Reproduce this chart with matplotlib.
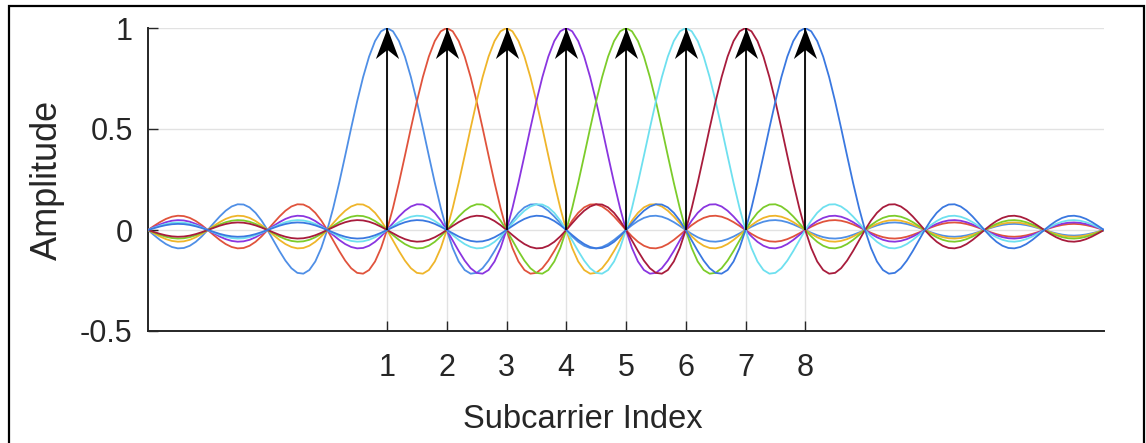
import matplotlib
matplotlib.use("Agg")
import matplotlib.pyplot as plt
import numpy as np
from matplotlib.path import Path
from matplotlib.patches import Rectangle

# ---- data ----
subcarriers = [1, 2, 3, 4, 5, 6, 7, 8]
amplitudes = [1, 1, 1, 1, 1, 1, 1, 1]
x_start, x_stop, x_step = -3.0, 13.0, 0.1
# one-sided pulse shape, at offsets 0, 0.1, 0.2, ... 12.0
pulse_one_sided = [
    1.0000, 0.9836, 0.9355, 0.8584, 0.7568, 0.6366, 0.5046, 0.3679, 0.2339, 0.1093,
    0.0000, -0.0894, -0.1559, -0.1981, -0.2162, -0.2122, -0.1892, -0.1515, -0.1039, -0.0518,
    0.0000, 0.0468, 0.0850, 0.1120, 0.1261, 0.1273, 0.1164, 0.0954, 0.0668, 0.0339,
    0.0000, -0.0317, -0.0585, -0.0780, -0.0890, -0.0909, -0.0841, -0.0696, -0.0492, -0.0252,
    0.0000, 0.0240, 0.0445, 0.0599, 0.0688, 0.0707, 0.0658, 0.0548, 0.0390, 0.0201,
    0.0000, -0.0193, -0.0360, -0.0486, -0.0561, -0.0579, -0.0541, -0.0452, -0.0323, -0.0167,
    0.0000, 0.0161, 0.0302, 0.0409, 0.0473, 0.0490, 0.0459, 0.0384, 0.0275, 0.0143,
    0.0000, -0.0139, -0.0260, -0.0353, -0.0409, -0.0424, -0.0398, -0.0334, -0.0240, -0.0125,
    0.0000, 0.0121, 0.0228, 0.0310, 0.0360, 0.0374, 0.0352, 0.0296, 0.0213, 0.0111,
    0.0000, -0.0108, -0.0203, -0.0277, -0.0322, -0.0335, -0.0315, -0.0265, -0.0191, -0.0099,
    0.0000, 0.0097, 0.0183, 0.0250, 0.0291, 0.0303, 0.0286, 0.0241, 0.0173, 0.0090,
    0.0000, -0.0089, -0.0167, -0.0228, -0.0266, -0.0277, -0.0261, -0.0220, -0.0159, -0.0083,
    0.0000,
]
colors = ["#4f8fe6", "#e0533c", "#efb52a", "#8a35e0",
          "#7ccc2a", "#6ee0ef", "#a81c3c", "#3a78e0"]
xtick_labels = ["1", "2", "3", "4", "5", "6", "7", "8"]
yticks = [-0.5, 0, 0.5, 1]
ytick_labels = ["-0.5", "0", "0.5", "1"]

plt.rcParams["font.family"] = ["Liberation Sans", "DejaVu Sans"]

W, H = 1146, 443
fig = plt.figure(figsize=(W / 100, H / 100), dpi=100)
L, R, B, T = 148, 1104, 331, 28
ax = fig.add_axes([L / W, (H - B) / H, (R - L) / W, (B - T) / H])

pulse_full = np.array(pulse_one_sided[::-1] + pulse_one_sided[1:])
step_count = len(pulse_one_sided) - 1
n_pts = int(round((x_stop - x_start) / x_step)) + 1
x = x_start + x_step * np.arange(n_pts)

for k, c in zip(subcarriers, colors):
    idx = np.round((x - k) / x_step).astype(int) + step_count
    ax.plot(x, pulse_full[idx], color=c, lw=1.3, zorder=3)

# stems with notched arrow heads
ax.vlines(subcarriers, 0, amplitudes, color="black", lw=1.3, zorder=4)
head = Path([(0, 0), (-0.38, -1), (0, -0.7), (0.38, -1), (0, 0)],
            [Path.MOVETO, Path.LINETO, Path.LINETO, Path.LINETO, Path.CLOSEPOLY])
ax.plot(subcarriers, amplitudes, linestyle="none", marker=head,
        markersize=44, color="black", markeredgewidth=0, zorder=5)

ax.set_xlim(x_start, x_stop)
ax.set_ylim(-0.5, 1)
ax.set_xticks(subcarriers)
ax.set_xticklabels(xtick_labels)
ax.set_yticks(yticks)
ax.set_yticklabels(ytick_labels)
ax.grid(True, color="#e2e2e2", lw=1.0, zorder=0)
ax.set_axisbelow(True)
for s in ["top", "right"]:
    ax.spines[s].set_visible(False)
for s in ["left", "bottom"]:
    ax.spines[s].set_color("#262626")
    ax.spines[s].set_linewidth(1.4)
ax.tick_params(direction="in", length=7, width=1.0, color="#262626",
               labelsize=22, labelcolor="#262626")
ax.tick_params(axis="y", pad=11)
ax.tick_params(axis="x", pad=16)

ax.set_xlabel("Subcarrier Index", fontsize=23.5, color="#262626")
ax.xaxis.label.set_va("center")
ax.xaxis.set_label_coords((583 - L) / (R - L), (B - 419) / (B - T))
ax.set_ylabel("Amplitude", fontsize=26, color="#262626")
ax.yaxis.label.set_va("center")
ax.yaxis.set_label_coords((47 - L) / (R - L), (B - 180) / (B - T))

# outer frame of the picture
fig.patches.append(Rectangle((9 / W, -0.05), (1144 - 9) / W, (H - 6) / H + 0.05,
                             transform=fig.transFigure, fill=False,
                             edgecolor="black", lw=1.6))

fig.savefig("out.png", dpi=100)
